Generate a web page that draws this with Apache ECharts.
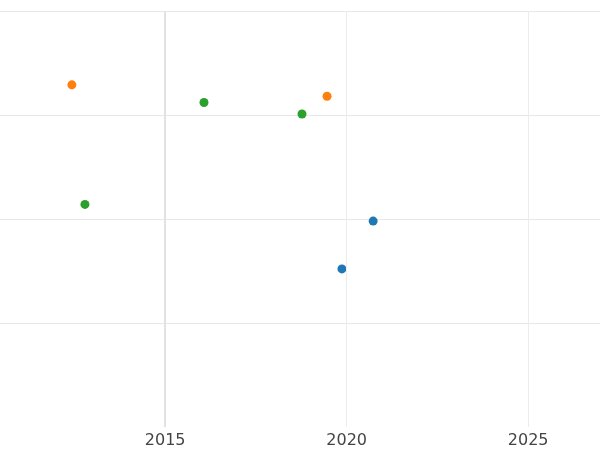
<!DOCTYPE html>
<html><head><meta charset="utf-8">
<script src="https://cdn.jsdelivr.net/npm/echarts@6/dist/echarts.min.js"></script>
<style>html,body{margin:0;padding:0}#c{width:600px;height:450px}</style>
</head><body><div id="c"></div>
<script>
const xTicks = [2015, 2020, 2025];
const blueX = [2020.73, 2019.87], blueY = [1.98, 1.52];
const orangeX = [2012.43, 2019.46], orangeY = [3.29, 3.18];
const greenX = [2016.07, 2018.77, 2012.79], greenY = [3.12, 3.01, 2.14];
const zip = (a, b) => a.map((v, i) => [v, b[i]]);
const chart = echarts.init(document.getElementById('c'));
const mk = (x, y, color, extra) => Object.assign({type: 'scatter', data: zip(x, y), symbolSize: 9, itemStyle: {color, opacity: 1}}, extra || {});
chart.setOption({
  animation: false,
  grid: {left: 0, right: 0, top: 11, bottom: 23, containLabel: false},
  xAxis: {type: 'value', min: 2010.45, max: 2026.98,
    axisLine: {show: false}, axisTick: {show: false}, splitLine: {show: false},
    axisLabel: {customValues: xTicks, fontSize: 16, color: '#444', margin: 6, fontFamily: 'DejaVu Sans', formatter: v => String(v)}},
  yAxis: {type: 'value', min: 0, max: 4, interval: 1,
    axisLine: {show: false}, axisTick: {show: false}, axisLabel: {show: false},
    splitLine: {showMinLine: false, lineStyle: {color: '#e8e8e8'}}},
  series: [
    mk(blueX, blueY, '#1f77b4', {markLine: {silent: true, symbol: 'none', label: {show: false},
      data: [{xAxis: 2015, lineStyle: {color: '#e2e2e2', type: 'solid', width: 2}},
             {xAxis: 2020, lineStyle: {color: '#ececec', type: 'solid', width: 1}},
             {xAxis: 2025, lineStyle: {color: '#ececec', type: 'solid', width: 1}}]}}),
    mk(orangeX, orangeY, '#ff7f0e'),
    mk(greenX, greenY, '#2ca02c')
  ]
});
</script></body></html>
